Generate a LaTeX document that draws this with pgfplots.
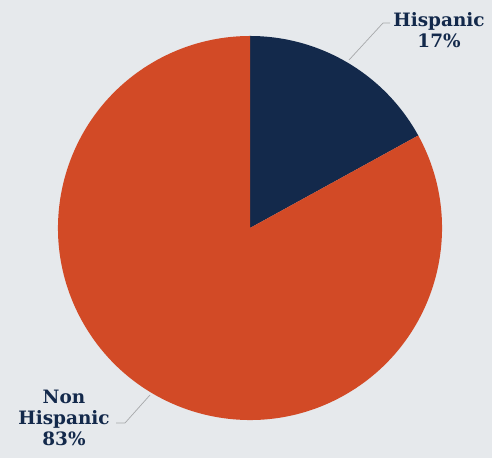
\documentclass[border=0pt]{standalone}
\usepackage{pgfplots}
\usepackage{pgfplotstable}
\usepackage{fontspec}
\pgfplotsset{compat=1.18}
\newfontfamily\labelfont{DejaVu Serif}
\definecolor{bgc}{HTML}{E6E9EC}
\definecolor{navyc}{HTML}{13294B}
\definecolor{orangec}{HTML}{D24A26}
\definecolor{leadc}{HTML}{A6A8AA}
\pgfplotstableread{
label value
Hispanic 17
NonHispanic 83
}\piedata
\begin{document}
\begin{tikzpicture}
\pgfplotstablegetelem{0}{value}\of\piedata
\pgfmathsetmacro{\va}{\pgfplotsretval}
\pgfplotstablegetelem{1}{value}\of\piedata
\pgfmathsetmacro{\vb}{\pgfplotsretval}
\pgfmathsetmacro{\aStart}{90}
\pgfmathsetmacro{\aMid}{90-\va*3.6}
\pgfmathsetmacro{\aEnd}{\aMid-\vb*3.6}
\begin{axis}[
  x=1bp, y=1bp,
  xmin=0, xmax=492, ymin=0, ymax=458,
  hide axis, scale only axis, clip=false,
]
\fill[bgc] (axis cs:0,0) rectangle (axis cs:492,458);
% pie slices from table values
\fill[navyc] (axis cs:250,230) -- ([shift={(\aStart:192bp)}]axis cs:250,230) arc[start angle=\aStart, end angle=\aMid, radius=192bp] -- cycle;
\fill[orangec] (axis cs:250,230) -- ([shift={(\aMid:192bp)}]axis cs:250,230) arc[start angle=\aMid, end angle=\aEnd, radius=192bp] -- cycle;
% leader lines
\draw[leadc, line width=0.7bp] (axis cs:349,398) -- (axis cs:383,435) -- (axis cs:390,435);
\draw[leadc, line width=0.7bp] (axis cs:150,63) -- (axis cs:125,35) -- (axis cs:116,35);
% labels
\node[align=center, text=navyc, font=\labelfont\bfseries\fontsize{18.5}{21}\selectfont, inner sep=0pt, anchor=center] at (axis cs:439,428) {Hispanic\\17\%};
\node[align=center, text=navyc, font=\labelfont\bfseries\fontsize{18.5}{21}\selectfont, inner sep=0pt, anchor=center] at (axis cs:64,40) {Non\\Hispanic\\83\%};
\end{axis}
\end{tikzpicture}
\end{document}
